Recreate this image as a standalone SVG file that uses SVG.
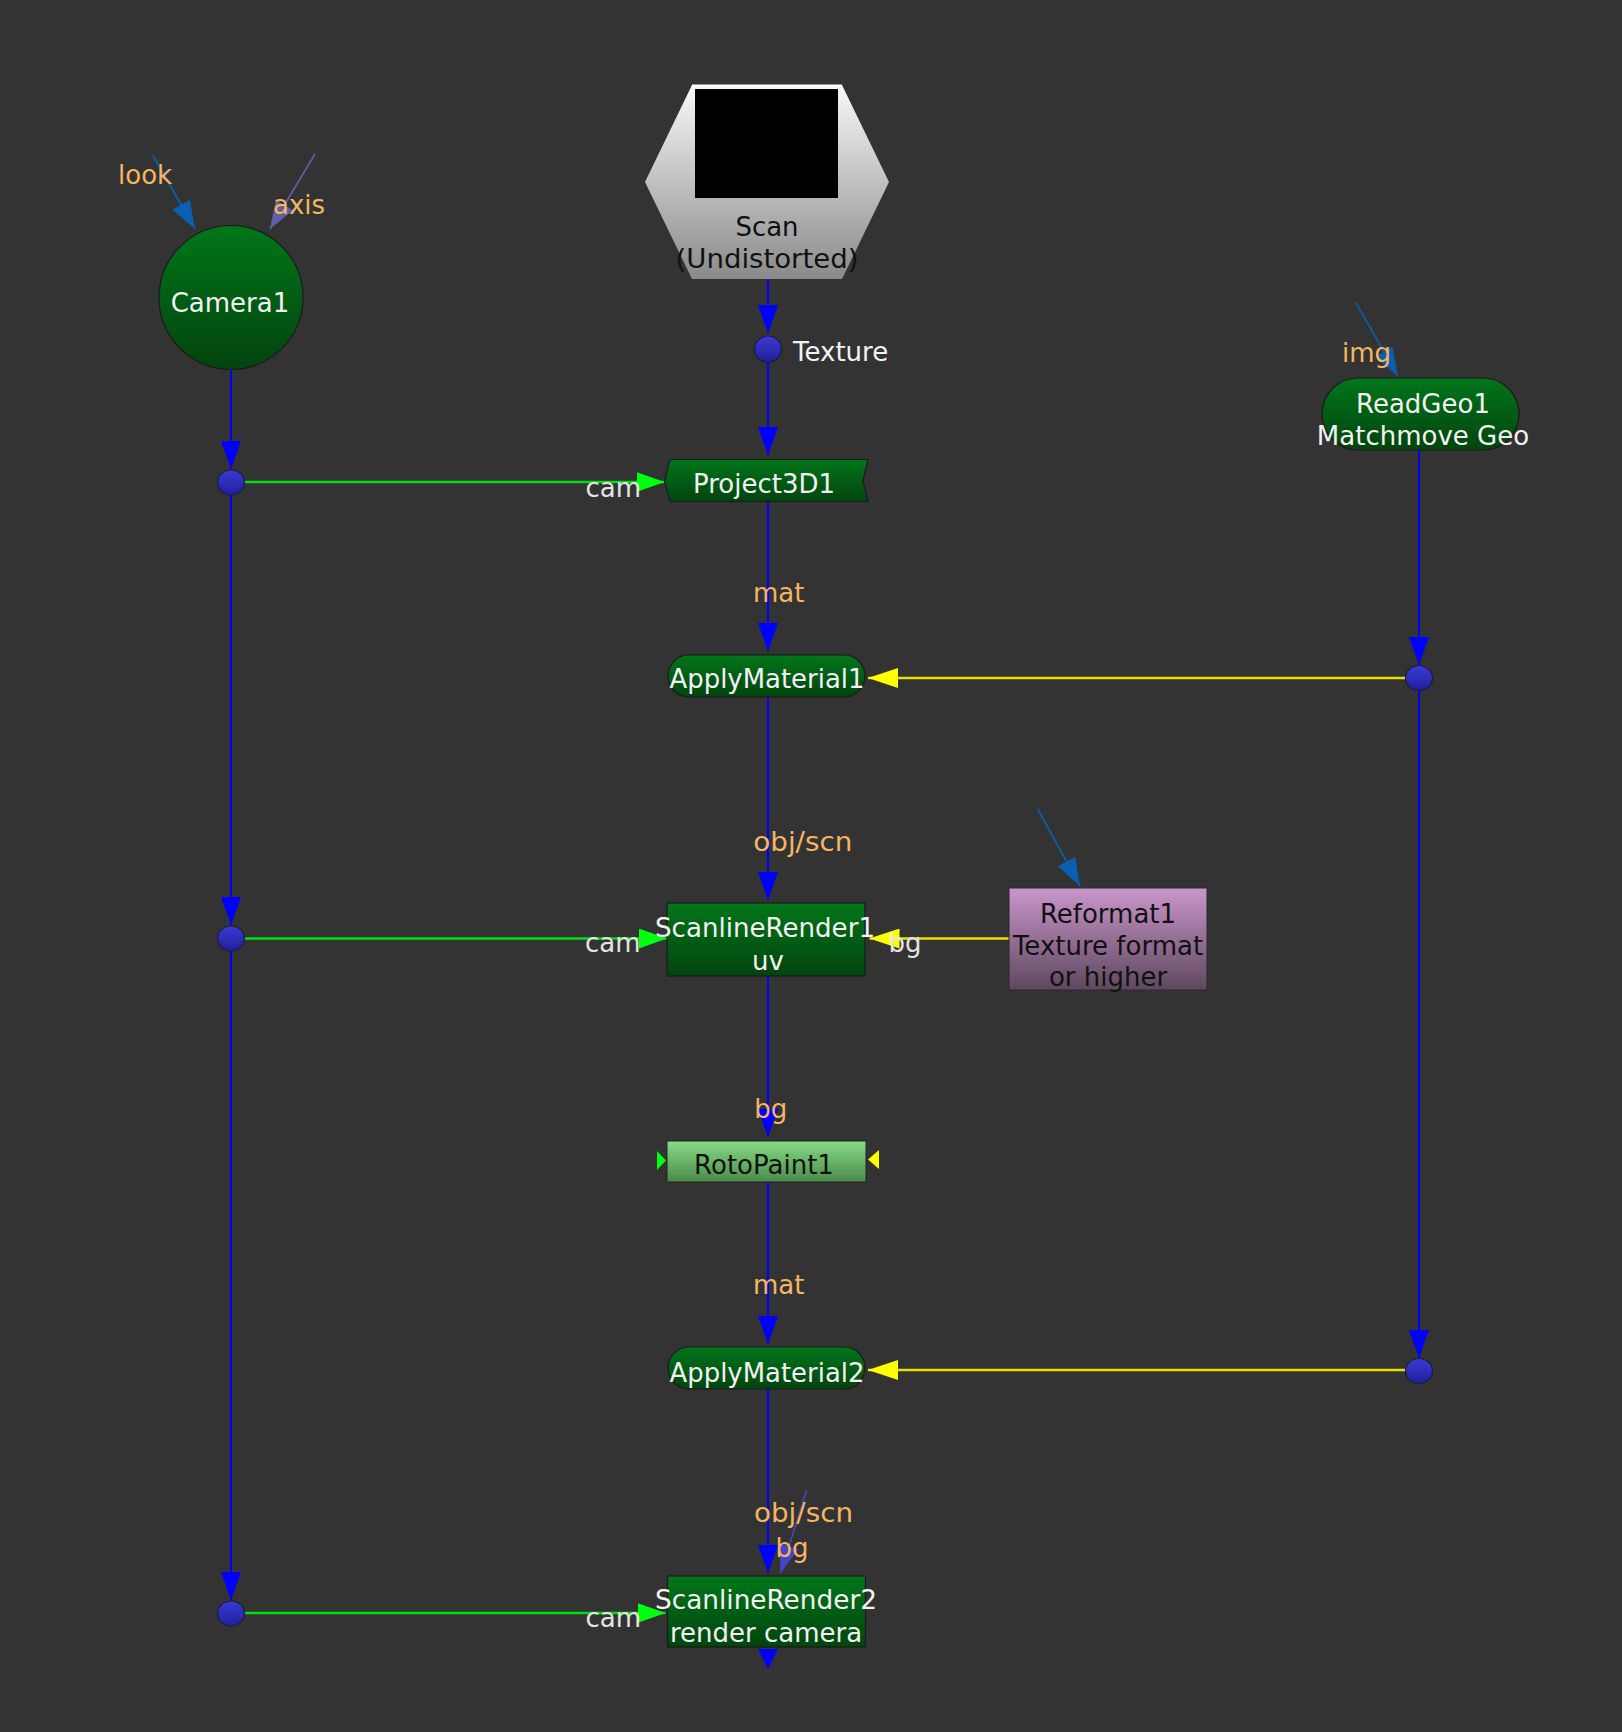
<svg xmlns="http://www.w3.org/2000/svg" width="1622" height="1732" viewBox="0 0 1622 1732">
<defs>
<style>
text{font-family:"DejaVu Sans","Verdana",sans-serif;font-size:26px}
.w{fill:#f2f2f2}
.k{fill:#111111}
.lab{fill:#f5b562}
.cl{fill:#e4e4e4}
.mid{text-anchor:middle}
.blue{stroke:#0000ff;stroke-width:2;fill:none}
.green{stroke:#00e010;stroke-width:2.5;fill:none}
.yel{stroke:#e8e000;stroke-width:2.5;fill:none}
.steel{stroke:#0a5fb0;stroke-width:1.6;fill:none}
.axis{stroke:#5f5fa8;stroke-width:1.6;fill:none}
.vio{stroke:#4545c5;stroke-width:1.6;fill:none}
.nd{stroke:#1a1a1a;stroke-width:1.2}
.dot{fill:url(#gDot);stroke:#1a1a3a;stroke-width:1.2}
</style>
<linearGradient id="gGreen" x1="0" y1="0" x2="0" y2="1"><stop offset="0" stop-color="#02761a"/><stop offset="1" stop-color="#02440e"/></linearGradient>
<linearGradient id="gScan" x1="0" y1="0" x2="0" y2="1"><stop offset="0" stop-color="#f8f8f8"/><stop offset="1" stop-color="#8a8a8a"/></linearGradient>
<linearGradient id="gRef" x1="0" y1="0" x2="0" y2="1"><stop offset="0" stop-color="#ca96cc"/><stop offset="1" stop-color="#5e485e"/></linearGradient>
<linearGradient id="gRoto" x1="0" y1="0" x2="0" y2="1"><stop offset="0" stop-color="#86dc86"/><stop offset="1" stop-color="#4a8a4a"/></linearGradient>
<linearGradient id="gDot" x1="0" y1="0" x2="0" y2="1"><stop offset="0" stop-color="#3a3ad8"/><stop offset="1" stop-color="#20209a"/></linearGradient>
<marker id="aBlue" markerUnits="userSpaceOnUse" markerWidth="28" markerHeight="20" refX="28" refY="10" orient="auto"><path d="M0,0 L28,10 L0,20 z" fill="#0000ff"/></marker>
<marker id="aGreen" markerUnits="userSpaceOnUse" markerWidth="28" markerHeight="20" refX="28" refY="10" orient="auto"><path d="M0,0 L28,10 L0,20 z" fill="#00ff10"/></marker>
<marker id="aYel" markerUnits="userSpaceOnUse" markerWidth="30" markerHeight="20" refX="30" refY="10" orient="auto"><path d="M0,0 L30,10 L0,20 z" fill="#ffff00"/></marker>
<marker id="aSteel" markerUnits="userSpaceOnUse" markerWidth="28" markerHeight="20" refX="28" refY="10" orient="auto"><path d="M0,0 L28,10 L0,20 z" fill="#0a5fb0"/></marker>
<marker id="aAxis" markerUnits="userSpaceOnUse" markerWidth="28" markerHeight="20" refX="28" refY="10" orient="auto"><path d="M0,0 L28,10 L0,20 z" fill="#5f5fa8"/></marker>
<marker id="aVio" markerUnits="userSpaceOnUse" markerWidth="28" markerHeight="20" refX="28" refY="10" orient="auto"><path d="M0,0 L28,10 L0,20 z" fill="#4545c5"/></marker>
</defs>
<rect x="0" y="0" width="1622" height="1732" fill="#333333"/>

<g id="connectors">
<line class="steel" x1="152.7" y1="155" x2="195" y2="229" marker-end="url(#aSteel)"/>
<line class="axis" x1="315" y1="154" x2="270" y2="229" marker-end="url(#aAxis)"/>
<line class="steel" x1="1355.7" y1="302.3" x2="1397.7" y2="376" marker-end="url(#aSteel)"/>
<line class="steel" x1="1037.7" y1="809" x2="1080" y2="886" marker-end="url(#aSteel)"/>
<line class="blue" x1="231" y1="370" x2="231" y2="469" marker-end="url(#aBlue)"/>
<line class="blue" x1="231" y1="495" x2="231" y2="925" marker-end="url(#aBlue)"/>
<line class="blue" x1="231" y1="951" x2="231" y2="1600" marker-end="url(#aBlue)"/>
<line class="blue" x1="768" y1="279" x2="768" y2="333" marker-end="url(#aBlue)"/>
<line class="blue" x1="768" y1="362" x2="768" y2="455" marker-end="url(#aBlue)"/>
<line class="blue" x1="768" y1="502" x2="768" y2="651" marker-end="url(#aBlue)"/>
<line class="blue" x1="768" y1="697" x2="768" y2="900" marker-end="url(#aBlue)"/>
<line class="blue" x1="768" y1="976" x2="768" y2="1137" marker-end="url(#aBlue)"/>
<line class="blue" x1="768" y1="1182" x2="768" y2="1344" marker-end="url(#aBlue)"/>
<line class="blue" x1="768" y1="1389" x2="768" y2="1573" marker-end="url(#aBlue)"/>
<polygon points="758,1649 778,1649 768,1669" fill="#0000ff"/>
<line class="blue" x1="1419" y1="450" x2="1419" y2="665" marker-end="url(#aBlue)"/>
<line class="blue" x1="1419" y1="691" x2="1419" y2="1358" marker-end="url(#aBlue)"/>
<line class="vio" x1="806.7" y1="1490" x2="780.5" y2="1573" marker-end="url(#aVio)"/>
<line class="green" x1="244" y1="482" x2="664.5" y2="482" marker-end="url(#aGreen)"/>
<line class="green" x1="244" y1="938.5" x2="667" y2="938.5" marker-end="url(#aGreen)"/>
<line class="green" x1="244" y1="1613" x2="665.5" y2="1613" marker-end="url(#aGreen)"/>
<line class="yel" x1="1405.5" y1="678" x2="868" y2="678" marker-end="url(#aYel)"/>
<line class="yel" x1="1009" y1="938.5" x2="869.5" y2="938.5" marker-end="url(#aYel)"/>
<line class="yel" x1="1405.5" y1="1370" x2="868" y2="1370" marker-end="url(#aYel)"/>
<text class="lab" x="118" y="184">look</text>
<text class="lab" x="273" y="214">axis</text>
<text class="lab" x="1342" y="361.7">img</text>
<text class="w" x="793" y="361">Texture</text>
<text class="cl" x="585.5" y="496.7">cam</text>
<text class="cl" x="585" y="951.7">cam</text>
<text class="cl" x="585.5" y="1626.7">cam</text>
<text class="lab" x="753" y="601.7">mat</text>
<text class="lab" x="753.3" y="851" textLength="99" lengthAdjust="spacingAndGlyphs">obj/scn</text>
<text class="cl" x="888.5" y="951.7">bg</text>
<text class="lab" x="754.3" y="1118.3">bg</text>
<text class="lab" x="753" y="1294.3">mat</text>
<text class="lab" x="754" y="1522.3" textLength="99" lengthAdjust="spacingAndGlyphs">obj/scn</text>
<text class="lab" x="775.5" y="1557.3">bg</text>
</g>

<g id="Camera1">
<circle cx="231" cy="297.5" r="72" fill="url(#gGreen)" class="nd"/>
<text class="w mid" x="230" y="311.5">Camera1</text>
</g>

<g id="Scan">
<polygon points="692,85 842,85 889,182 842,279 692,279 645,182" fill="url(#gScan)"/>
<line x1="692" y1="85.5" x2="842" y2="85.5" stroke="#ffffff" stroke-width="2"/>
<rect x="695" y="89" width="143" height="109" fill="#000000"/>
<text class="k mid" x="767" y="235.5">Scan</text>
<text class="k mid" x="767" y="268" textLength="183" lengthAdjust="spacingAndGlyphs">(Undistorted)</text>
</g>

<g id="Dot_Texture"><ellipse class="dot" cx="768" cy="349" rx="13.5" ry="13"/></g>
<g id="Dot_Cam1"><ellipse class="dot" cx="231" cy="482.5" rx="13.5" ry="12.5"/></g>
<g id="Dot_Cam2"><ellipse class="dot" cx="231" cy="938.5" rx="13.5" ry="12.5"/></g>
<g id="Dot_Cam3"><ellipse class="dot" cx="231" cy="1613.5" rx="13.5" ry="12.5"/></g>
<g id="Dot_Geo1"><ellipse class="dot" cx="1419" cy="678" rx="13.5" ry="12.5"/></g>
<g id="Dot_Geo2"><ellipse class="dot" cx="1419" cy="1371" rx="13.5" ry="12.5"/></g>

<g id="ReadGeo1">
<rect x="1322" y="378" width="197" height="72" rx="36" ry="36" fill="url(#gGreen)" class="nd"/>
<text class="w mid" x="1423" y="412.7">ReadGeo1</text>
<text class="w mid" x="1423" y="445">Matchmove Geo</text>
</g>

<g id="Project3D1">
<polygon points="670,459.5 868,459.5 863,481 868,501.5 670,501.5 664.5,481" fill="url(#gGreen)" class="nd"/>
<text class="w mid" x="764" y="493.3">Project3D1</text>
</g>

<g id="ApplyMaterial1">
<rect x="668" y="655" width="197" height="42" rx="21" ry="21" fill="url(#gGreen)" class="nd"/>
<text class="w mid" x="767" y="688.3" textLength="195" lengthAdjust="spacingAndGlyphs">ApplyMaterial1</text>
</g>

<g id="ScanlineRender1">
<rect x="667" y="903" width="198" height="73" fill="url(#gGreen)" class="nd"/>
<text class="w mid" x="765" y="936.7" textLength="220" lengthAdjust="spacingAndGlyphs">ScanlineRender1</text>
<text class="w mid" x="768" y="970">uv</text>
</g>

<g id="Reformat1">
<rect x="1009" y="888" width="198" height="102" fill="url(#gRef)" stroke="#2a2a2a" stroke-width="1"/>
<text class="k mid" x="1108" y="923.3">Reformat1</text>
<text class="k mid" x="1108" y="955">Texture format</text>
<text class="k mid" x="1108" y="986">or higher</text>
</g>

<g id="RotoPaint1">
<rect x="667" y="1141" width="199" height="41" fill="url(#gRoto)" stroke="#222222" stroke-width="1"/>
<polygon points="657,1151 666,1160.5 657,1170" fill="#00ff10"/>
<polygon points="879,1150 868,1159.5 879,1169" fill="#ffff00"/>
<text class="k mid" x="764" y="1174.3">RotoPaint1</text>
</g>

<g id="ApplyMaterial2">
<rect x="668" y="1347" width="197" height="42" rx="21" ry="21" fill="url(#gGreen)" class="nd"/>
<text class="w mid" x="767" y="1381.7" textLength="195" lengthAdjust="spacingAndGlyphs">ApplyMaterial2</text>
</g>

<g id="ScanlineRender2">
<rect x="667.5" y="1576" width="198" height="71" fill="url(#gGreen)" class="nd"/>
<text class="w mid" x="766" y="1609" textLength="222" lengthAdjust="spacingAndGlyphs">ScanlineRender2</text>
<text class="w mid" x="766" y="1641.7">render camera</text>
</g>
</svg>
